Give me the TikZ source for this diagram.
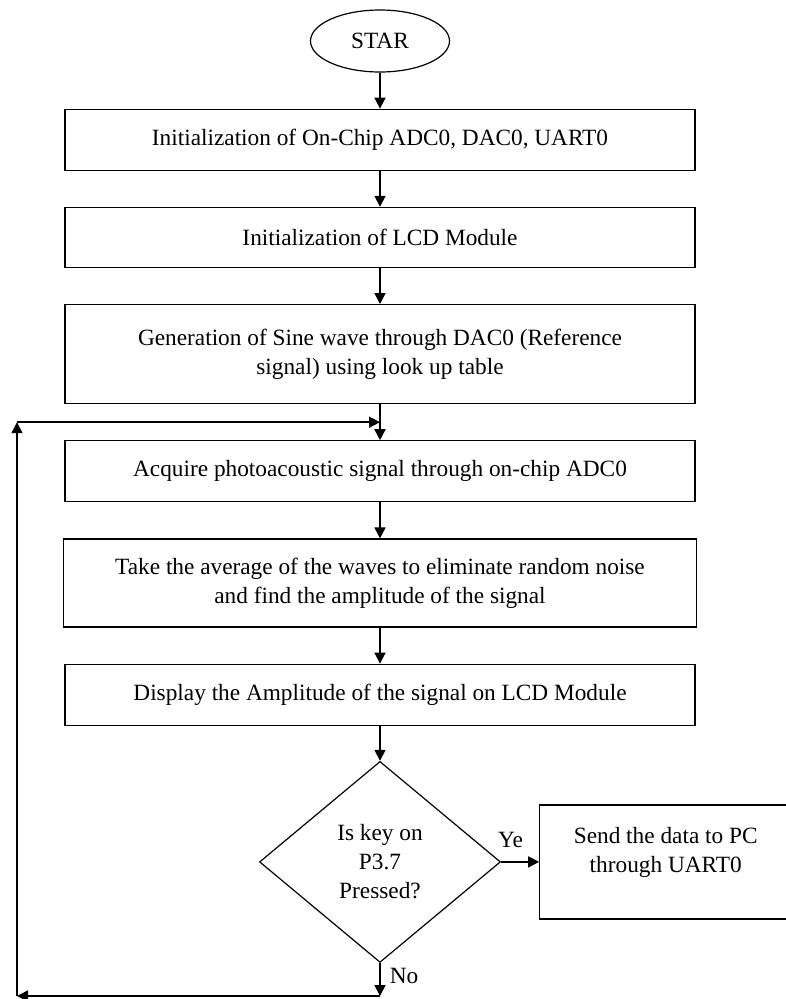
\documentclass[tikz,border=0pt]{standalone}
\usepackage{fontspec}
\setmainfont{Liberation Serif}
\usetikzlibrary{arrows.meta}
\usetikzlibrary{positioning}
\usetikzlibrary{shapes.geometric}
\tikzset {
  flow path/.style = {
    draw = black,
    line width = 1.7pt
  },
  % path style with an arrow head at the end
  arr/.style = {
    flow path,
    -{Triangle[length = 11pt, width = 11pt]}
  }
}
\tikzset {
  flow node/.style = {
    draw = black,
    line width = 1.2pt,
    align = center,
    font = \fontsize{23.3}{29}\selectfont
  },
  % start symbol
  term/.style = {
    flow node,
    ellipse,
    minimum width = 139pt,
    minimum height = 62pt,
    inner sep = 0
  },
  % processing step
  proc/.style = {
    flow node,
    rectangle,
    minimum width = 630pt,
    minimum height = 61pt
  },
  % decision
  test/.style = {
    flow node,
    diamond,
    minimum width = 241pt,
    minimum height = 201pt,
    inner sep = 0
  },
  % branch label
  lbl/.style = {
    font = \fontsize{23.3}{29}\selectfont,
    inner sep = 0
  },
  node distance = 36pt
}

\begin{document}
\begin{tikzpicture}[x = 1pt, y = -1pt]
    \useasboundingbox (0, 0) rectangle (786, 999);

    \node[term] (start) at (380, 41) {STAR};
    \node[proc] (initadc) [below=of start] {Initialization of On-Chip ADC0, DAC0, UART0};
    \node[proc, minimum height = 60pt] (initlcd) [below=of initadc] {Initialization of LCD Module};
    \node[proc, minimum height = 99pt] (sine) [below=of initlcd] {Generation of Sine wave through DAC0 (Reference\\signal) using look up table};
    \node[proc] (acq) [below=of sine] {Acquire photoacoustic signal through on-chip ADC0};
    \node[proc, minimum width = 633pt, minimum height = 88pt] (avg) [below=of acq] {Take the average of the waves to eliminate random noise\\and find the amplitude of the signal};
    \node[proc] (disp) [below=of avg] {Display the Amplitude of the signal on LCD Module};
    \node[test] (key) [below=35pt of disp] {Is key on\\P3.7\\Pressed?};
    \node[proc, minimum width = 252pt, minimum height = 114pt] (send) [right=38pt of key] {Send the data to PC\\through UART0\\[-6pt]\mbox{}};

    \coordinate[below=18pt of sine.south] (loopin);
    \coordinate[below=33pt of key.south] (nobend);
    \coordinate (lx) at (17, 0);
    \coordinate (cornerlow) at (nobend -| lx);
    \coordinate (cornerup) at (loopin -| lx);

    \draw[arr] (start) -- (initadc);
    \draw[arr] (initadc) -- (initlcd);
    \draw[arr] (initlcd) -- (sine);
    \draw[arr] (sine) -- (acq);
    \draw[arr] (acq) -- (avg);
    \draw[arr] (avg) -- (disp);
    \draw[arr] (disp) -- (key);

    \draw[arr] (key) -- node[lbl, above = 13pt, pos = 0.25] (yes) {Ye} (send);
    \draw[arr] (key) -- node[lbl, right = 9pt, pos = 0.4] (no) {No} (nobend);

    \draw[arr] (nobend) -- (cornerlow);
    \draw[arr] (cornerlow) -- (cornerup);
    \draw[arr] (cornerup) -- (loopin);
\end{tikzpicture}
\end{document}
